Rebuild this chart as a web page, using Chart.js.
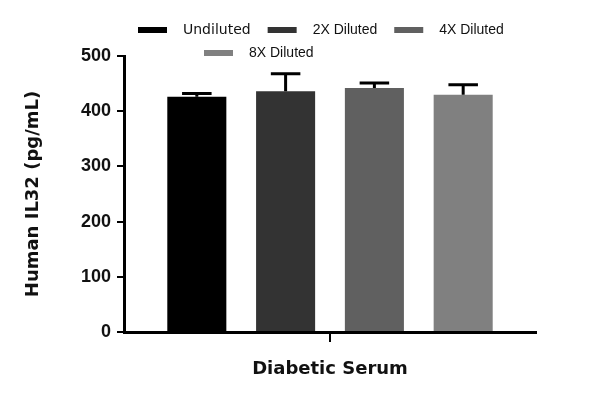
<!DOCTYPE html>
<html>
<head>
<meta charset="utf-8">
<script src="https://cdn.jsdelivr.net/npm/chart.js@4"></script>
<style>
  html, body { margin: 0; padding: 0; background: #fff; }
  #wrap { width: 600px; height: 397px; }
</style>
</head>
<body>
<div id="wrap"><canvas id="chart-il32"></canvas></div>
<script>
// Data
const categories = ['Diabetic Serum'];
const seriesLabels = ['Undiluted', '2X Diluted', '4X Diluted', '8X Diluted'];
const meanValues = [426, 436, 442, 430];
const errorValues = [6, 32, 9, 18];
const yTicks = [0, 100, 200, 300, 400, 500];

// Colours / fonts
const barColors = ['#000000', '#333333', '#606060', '#808080'];
const legendFonts = [
  '14px "DejaVu Sans", sans-serif',
  '14px "Liberation Sans", Arial, sans-serif',
  '14px "Liberation Sans", Arial, sans-serif',
  '14px "Liberation Sans", Arial, sans-serif'
];

// Error bars (upper only, like the reference)
const errorBarPlugin = {
  id: 'errorBars',
  afterDatasetsDraw(chart) {
    const ctx = chart.ctx;
    const yScale = chart.scales.y;
    ctx.save();
    ctx.strokeStyle = '#000';
    ctx.lineWidth = 3;
    chart.data.datasets.forEach((ds, i) => {
      const meta = chart.getDatasetMeta(i);
      meta.data.forEach((bar, j) => {
        const v = ds.data[j];
        const err = ds.errors[j];
        const yTop = yScale.getPixelForValue(v);
        const yCap = yScale.getPixelForValue(v + err);
        const half = bar.width / 4;
        ctx.beginPath();
        ctx.moveTo(bar.x, yTop);
        ctx.lineTo(bar.x, yCap);
        ctx.moveTo(bar.x - half, yCap);
        ctx.lineTo(bar.x + half, yCap);
        ctx.stroke();
      });
    });
    ctx.restore();
  }
};

// Legend: 3 items on the first row, the rest below
const legendPlugin = {
  id: 'twoRowLegend',
  afterDraw(chart) {
    const ctx = chart.ctx;
    const rows = [[0, 1, 2], [3]];
    const rowStart = [138, 204];
    const rowY = [30, 53];
    ctx.save();
    ctx.textBaseline = 'middle';
    ctx.textAlign = 'left';
    rows.forEach((row, r) => {
      let x = rowStart[r];
      row.forEach(i => {
        const ds = chart.data.datasets[i];
        ctx.fillStyle = ds.backgroundColor;
        ctx.fillRect(x, rowY[r] - 3, 29, 6);
        x += 29 + 16;
        ctx.font = legendFonts[i];
        ctx.fillStyle = '#111';
        ctx.fillText(ds.label, x, rowY[r]);
        x += ctx.measureText(ds.label).width + 17;
      });
    });
    ctx.restore();
  }
};

const ctx = document.getElementById('chart-il32');
new Chart(ctx, {
  type: 'bar',
  data: {
    labels: categories,
    datasets: seriesLabels.map((label, i) => ({
      label: label,
      data: [meanValues[i]],
      errors: [errorValues[i]],
      backgroundColor: barColors[i],
      borderWidth: 0,
      categoryPercentage: 0.862,
      barPercentage: 0.665
    }))
  },
  options: {
    responsive: true,
    maintainAspectRatio: false,
    animation: false,
    layout: { padding: { top: 56, right: 64, left: 0, bottom: 0 } },
    plugins: {
      legend: { display: false },
      tooltip: { enabled: false }
    },
    scales: {
      x: {
        afterFit: s => { s.height = 65; },
        border: { display: true, color: '#000', width: 3 },
        grid: { display: true, offset: false, drawOnChartArea: false, drawTicks: true, tickLength: 10, color: '#000', lineWidth: 2 },
        ticks: {
          color: '#111',
          padding: 17,
          font: { family: '"DejaVu Sans", sans-serif', size: 18, weight: 'bold' }
        }
      },
      y: {
        min: 0,
        max: 500,
        afterFit: s => { s.width = 124; },
        afterBuildTicks: s => { s.ticks = yTicks.map(v => ({ value: v })); },
        border: { display: true, color: '#000', width: 3 },
        grid: { display: true, drawOnChartArea: false, drawTicks: true, tickLength: 7, color: '#000', lineWidth: 2 },
        ticks: {
          color: '#111',
          padding: 6,
          font: { family: '"Liberation Sans", Arial, sans-serif', size: 18, weight: 'bold' }
        },
        title: {
          display: true,
          text: 'Human IL32 (pg/mL)',
          color: '#111',
          padding: { top: 23, bottom: 0 },
          font: { family: '"DejaVu Sans", sans-serif', size: 18, weight: 'bold' }
        }
      }
    }
  },
  plugins: [errorBarPlugin, legendPlugin]
});
</script>
</body>
</html>
